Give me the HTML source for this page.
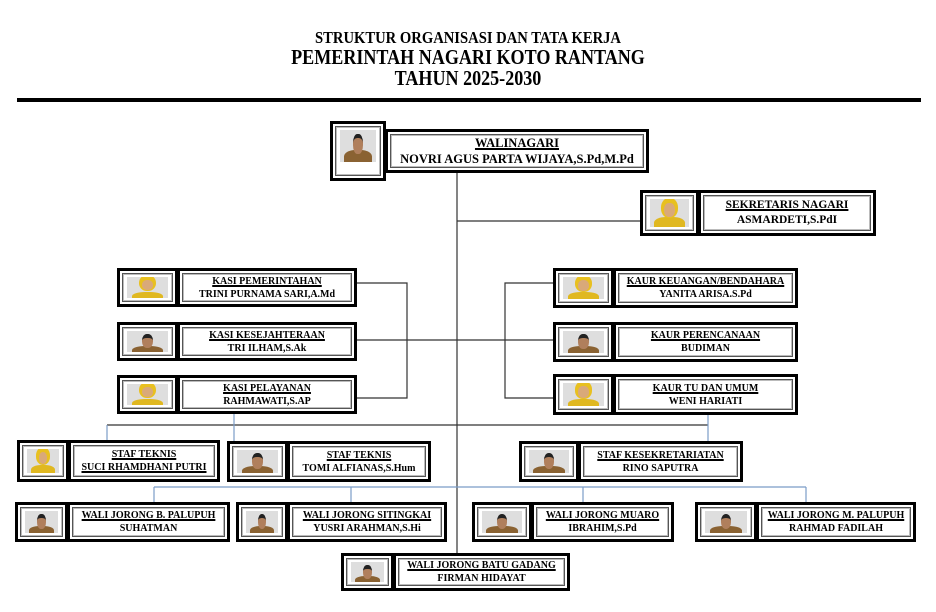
<!DOCTYPE html>
<html><head><meta charset="utf-8"><style>
body{margin:0;width:936px;height:612px;background:#fff;position:relative;overflow:hidden;font-family:"Liberation Serif",serif;font-weight:bold;color:#000}
.t{position:absolute;left:0;width:936px;text-align:center;white-space:nowrap;transform:scaleX(.86);transform-origin:468px 0}
.rule{position:absolute;left:17px;top:98px;width:904px;height:4px;background:#000}
.b{position:absolute;box-sizing:border-box;border:3px solid #000;background:#fff;box-shadow:inset 0 0 0 2px #fff,inset 0 0 0 3px #555,inset 0 0 0 4px #bbb}
.tx{display:flex;flex-direction:column;justify-content:center;align-items:center;font-size:10px;line-height:13px;white-space:nowrap}
.tx u{text-decoration:underline;text-decoration-thickness:2px;text-underline-offset:1px}
.ph{position:absolute;left:7px;right:7px;top:6px;bottom:6px;background:#dedede;overflow:hidden}
.ph i{position:absolute;left:50%;bottom:-4px;width:78%;height:50%;margin-left:-39%;border-radius:40% 40% 0 0;background:#8a6232}
.ph s{position:absolute;left:50%;top:14%;width:26%;height:50%;margin-left:-13%;border-radius:45%;background:#b07f5c;border-top:4px solid #222}
.f i{background:#e0b820}.f s{background:#d9a979;border-top:none;box-shadow:0 -2px 0 3px #e8c020}
svg{position:absolute;left:0;top:0}
</style></head><body>
<div class="t" style="top:28px;font-size:17px">STRUKTUR ORGANISASI DAN TATA KERJA</div>
<div class="t" style="top:45px;font-size:21px">PEMERINTAH NAGARI KOTO RANTANG</div>
<div class="t" style="top:66px;font-size:21px">TAHUN 2025-2030</div>
<div class="rule"></div>
<svg width="936" height="612">
<g stroke="#333" stroke-width="1.2" fill="none">
<path d="M457 172V553"/>
<path d="M457 221H640"/>
<path d="M357 283H407V398H357M357 340H553"/>
<path d="M553 283H505V398H553"/>
<path d="M107 425H708"/>
</g>
<g stroke="#7b9cc8" stroke-width="1.2" fill="none">
<path d="M107 425V440M234 413V441M708 414V441"/>
<path d="M154 487H806M154 487V502M351 487V502M583 487V502M806 487V502"/>
</g>
</svg>

<div class="b" style="left:330px;top:121px;width:56px;height:60px"><div class="ph" style="bottom:16px"><i></i><s></s></div></div>
<div class="b tx" style="left:385px;top:129px;width:264px;height:44px;font-size:12.5px;line-height:16px"><u>WALINAGARI</u>NOVRI AGUS PARTA WIJAYA,S.Pd,M.Pd</div>
<div class="b" style="left:640px;top:190px;width:59px;height:46px"><div class="ph f"><i></i><s></s></div></div>
<div class="b tx" style="left:698px;top:190px;width:178px;height:46px;font-size:11.5px;line-height:15px"><u>SEKRETARIS NAGARI</u>ASMARDETI,S.PdI</div>

<div class="b" style="left:117px;top:268px;width:61px;height:39px"><div class="ph f"><i></i><s></s></div></div>
<div class="b tx" style="left:177px;top:268px;width:180px;height:39px"><u>KASI PEMERINTAHAN</u>TRINI PURNAMA SARI,A.Md</div>
<div class="b" style="left:117px;top:322px;width:61px;height:39px"><div class="ph"><i></i><s></s></div></div>
<div class="b tx" style="left:177px;top:322px;width:180px;height:39px"><u>KASI KESEJAHTERAAN</u>TRI ILHAM,S.Ak</div>
<div class="b" style="left:117px;top:375px;width:61px;height:39px"><div class="ph f"><i></i><s></s></div></div>
<div class="b tx" style="left:177px;top:375px;width:180px;height:39px"><u>KASI PELAYANAN</u>RAHMAWATI,S.AP</div>

<div class="b" style="left:553px;top:268px;width:61px;height:40px"><div class="ph f"><i></i><s></s></div></div>
<div class="b tx" style="left:613px;top:268px;width:185px;height:40px"><u>KAUR KEUANGAN/BENDAHARA</u>YANITA ARISA.S.Pd</div>
<div class="b" style="left:553px;top:322px;width:61px;height:40px"><div class="ph"><i></i><s></s></div></div>
<div class="b tx" style="left:613px;top:322px;width:185px;height:40px"><u>KAUR PERENCANAAN</u>BUDIMAN</div>
<div class="b" style="left:553px;top:374px;width:61px;height:41px"><div class="ph f"><i></i><s></s></div></div>
<div class="b tx" style="left:613px;top:374px;width:185px;height:41px"><u>KAUR TU DAN UMUM</u>WENI HARIATI</div>

<div class="b" style="left:17px;top:440px;width:52px;height:42px"><div class="ph f"><i></i><s></s></div></div>
<div class="b tx" style="left:68px;top:440px;width:152px;height:42px"><u>STAF TEKNIS</u><u>SUCI RHAMDHANI PUTRI</u></div>
<div class="b" style="left:227px;top:441px;width:61px;height:41px"><div class="ph"><i></i><s></s></div></div>
<div class="b tx" style="left:287px;top:441px;width:144px;height:41px"><u>STAF TEKNIS</u>TOMI ALFIANAS,S.Hum</div>
<div class="b" style="left:519px;top:441px;width:60px;height:41px"><div class="ph"><i></i><s></s></div></div>
<div class="b tx" style="left:578px;top:441px;width:165px;height:41px"><u>STAF KESEKRETARIATAN</u>RINO SAPUTRA</div>

<div class="b" style="left:15px;top:502px;width:53px;height:40px"><div class="ph"><i></i><s></s></div></div>
<div class="b tx" style="left:67px;top:502px;width:163px;height:40px"><u>WALI JORONG B. PALUPUH</u>SUHATMAN</div>
<div class="b" style="left:236px;top:502px;width:52px;height:40px"><div class="ph"><i></i><s></s></div></div>
<div class="b tx" style="left:287px;top:502px;width:160px;height:40px"><u>WALI JORONG SITINGKAI</u>YUSRI ARAHMAN,S.Hi</div>
<div class="b" style="left:472px;top:502px;width:60px;height:40px"><div class="ph"><i></i><s></s></div></div>
<div class="b tx" style="left:531px;top:502px;width:143px;height:40px"><u>WALI JORONG MUARO</u>IBRAHIM,S.Pd</div>
<div class="b" style="left:695px;top:502px;width:62px;height:40px"><div class="ph"><i></i><s></s></div></div>
<div class="b tx" style="left:756px;top:502px;width:160px;height:40px"><u>WALI JORONG M. PALUPUH</u>RAHMAD FADILAH</div>
<div class="b" style="left:341px;top:553px;width:53px;height:38px"><div class="ph"><i></i><s></s></div></div>
<div class="b tx" style="left:393px;top:553px;width:177px;height:38px"><u>WALI JORONG BATU GADANG</u>FIRMAN HIDAYAT</div>
</body></html>
